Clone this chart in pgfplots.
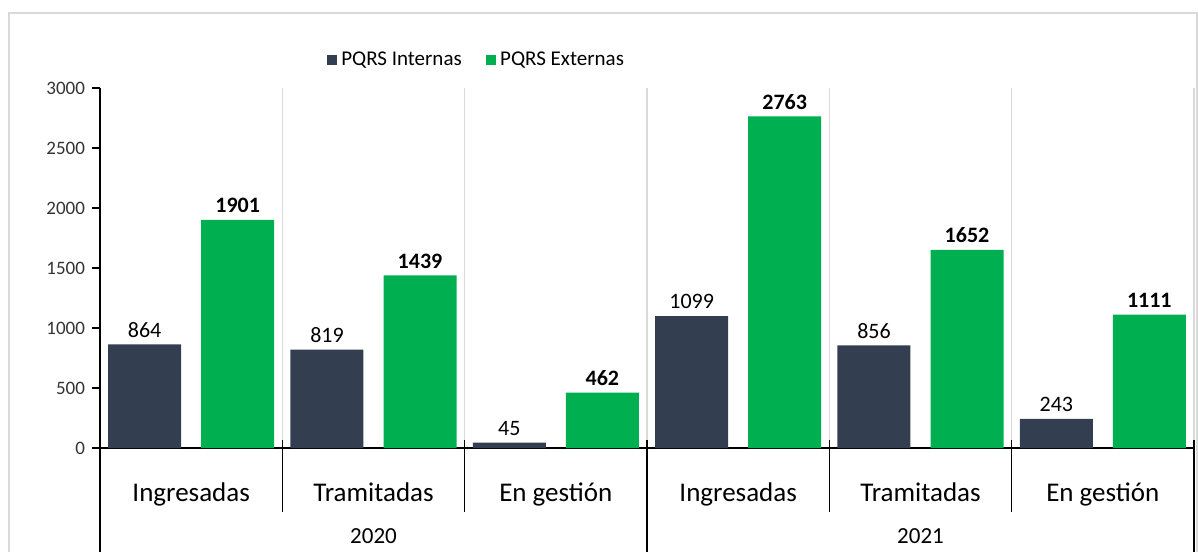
\documentclass[border=0pt]{standalone}
\usepackage{fontspec}
\setmainfont{Carlito}
\usepackage{pgfplots}
\pgfplotsset{compat=1.18}
\definecolor{interna}{HTML}{333F50}
\definecolor{externa}{HTML}{00B050}
\definecolor{grilla}{HTML}{D9D9D9}

\begin{document}
\begin{tikzpicture}
\path[use as bounding box] (0,0) rectangle (599pt,275.5pt);
\draw[grilla, line width=0.7pt] (4.5pt,-10pt) rectangle (598.5pt,269pt);
\begin{axis}[
  at={(50pt,51.5pt)}, anchor=south west,
  scale only axis, width=547pt, height=180pt,
  ybar=10pt, bar width=36.5pt,
  xmin=-0.5, xmax=5.5, ymin=0, ymax=3000,
  xtick={0,...,5},
  xticklabels={Ingresadas,Tramitadas,En gestión,Ingresadas,Tramitadas,En gestión},
  xticklabel style={font=\fontsize{13.5}{15}\selectfont, anchor=base, yshift=-22.5pt},
  x tick style={draw=none},
  extra x ticks={0.5,1.5,2.5,3.5,4.5,5.5},
  extra x tick labels={},
  extra x tick style={grid=major, major grid style={grilla, line width=0.7pt}, major tick length=0pt},
  ytick={0,500,...,3000},
  yticklabel style={font=\fontsize{9.5}{11}\selectfont, text=black!80},
  y tick style={black, line width=0.6pt},
  tick align=outside, major tick length=4pt,
  axis x line*=bottom, axis y line*=left,
  axis line style={black, line width=0.8pt},
  /pgf/number format/assume math mode=true,
  /pgf/number format/1000 sep={},
  nodes near coords,
  nodes near coords style={font=\fontsize{11}{13}\selectfont, text=black},
  legend style={at={(0.345,1.078)}, anchor=center, draw=none, fill=none,
    legend columns=2, font=\fontsize{10.5}{12}\selectfont,
    /tikz/every even column/.append style={column sep=10pt}},
  legend image code/.code={\fill[#1, draw=none] (0pt,-2.6pt) rectangle (5.2pt,2.6pt);},
  clip=false,
]
\addplot[fill=interna, draw=none] coordinates {
  (0,864) (1,819) (2,45) (3,1099) (4,856) (5,243)
};
\addlegendentry{PQRS Internas}
\addplot[fill=externa, draw=none,
  every node near coord/.append style={font=\fontsize{11}{13}\selectfont\bfseries}] coordinates {
  (0,1901) (1,1439) (2,462) (3,2763) (4,1652) (5,1111)
};
\addlegendentry{PQRS Externas}

\draw[black, line width=0.8pt] ([yshift=4pt]axis cs:0.5,0) -- ([yshift=-32pt]axis cs:0.5,0);
\draw[black, line width=0.8pt] ([yshift=4pt]axis cs:1.5,0) -- ([yshift=-32pt]axis cs:1.5,0);
\draw[black, line width=0.8pt] ([yshift=4pt]axis cs:3.5,0) -- ([yshift=-32pt]axis cs:3.5,0);
\draw[black, line width=0.8pt] ([yshift=4pt]axis cs:4.5,0) -- ([yshift=-32pt]axis cs:4.5,0);
\draw[black, line width=0.8pt] (axis cs:-0.5,0) -- ([yshift=-70pt]axis cs:-0.5,0);
\draw[black, line width=0.8pt] ([yshift=4pt]axis cs:2.5,0) -- ([yshift=-70pt]axis cs:2.5,0);
\draw[black, line width=0.8pt] ([yshift=4pt]axis cs:5.5,0) -- ([yshift=-70pt]axis cs:5.5,0);
\node[anchor=base, font=\fontsize{11.5}{14}\selectfont] at ([yshift=-47.5pt]axis cs:1,0) {2020};
\node[anchor=base, font=\fontsize{11.5}{14}\selectfont] at ([yshift=-47.5pt]axis cs:4,0) {2021};
\end{axis}
\end{tikzpicture}
\end{document}
